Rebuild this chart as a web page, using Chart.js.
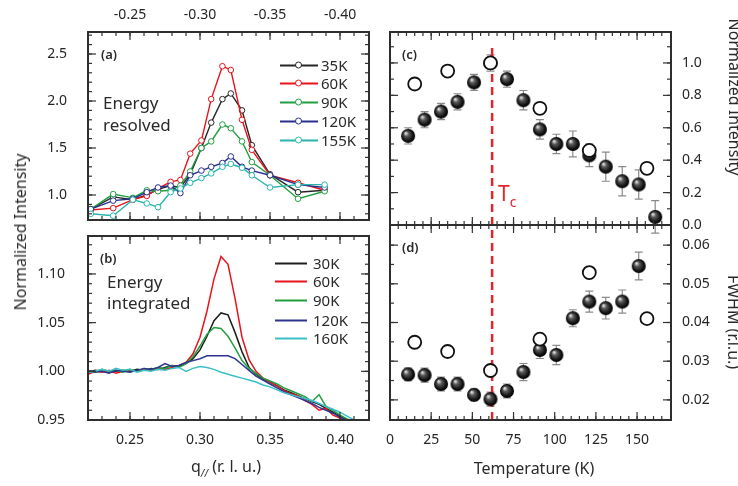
<!DOCTYPE html>
<html>
<head>
<meta charset="utf-8">
<script src="https://cdn.jsdelivr.net/npm/chart.js@4.4.0/dist/chart.umd.min.js"></script>
<style>
  body { margin: 0; background: #fff; }
  #wrap { position: relative; width: 738px; height: 486px; overflow: hidden; font-family: "Noto Sans", sans-serif; color: #2a2a2a; }
  canvas { position: absolute; left: 0; top: 0; }
  .t { position: absolute; white-space: nowrap; line-height: 1; transform: translateY(-50%); }
  .cc { transform: translate(-50%, -50%); }
  .lg { position: absolute; display: flex; align-items: center; font-size: 15px; line-height: 1; transform: translateY(-50%); color: #2a2a2a; }
  .sym { position: relative; width: 38px; height: 10px; margin-right: 3px; }
  .sym i { position: absolute; left: 0; right: 0; top: 4px; height: 2px; background: currentColor; }
  .sym b { position: absolute; left: 15px; top: 1px; width: 5px; height: 5px; border: 1.3px solid currentColor; border-radius: 50%; background: #fff; }
  .sym2 { width: 32px; height: 2px; background: currentColor; margin-right: 6px; }
</style>
</head>
<body>
<div id="wrap">
  <canvas id="ca" width="738" height="486"></canvas>
  <canvas id="cb" width="738" height="486"></canvas>
  <canvas id="cc" width="738" height="486"></canvas>
  <canvas id="cd" width="738" height="486"></canvas>

  <div class="t" style="left:101px;top:54px;font-size:13px;font-weight:600">(a)</div>
  <div class="t" style="left:103px;top:102px;font-size:17px">Energy</div>
  <div class="t" style="left:103px;top:124px;font-size:17px">resolved</div>
  <div id="legA"></div>

  <div class="t" style="left:100px;top:258px;font-size:13px;font-weight:600">(b)</div>
  <div class="t" style="left:107px;top:281px;font-size:17px">Energy</div>
  <div class="t" style="left:107px;top:302px;font-size:17px">integrated</div>
  <div id="legB"></div>

  <div class="t" style="left:402px;top:54px;font-size:13px;font-weight:600">(c)</div>
  <div class="t" style="left:402px;top:247px;font-size:13px;font-weight:600">(d)</div>
  <div class="t" style="left:498px;top:196px;font-size:21px;color:#e3242b">T<sub style="font-size:14px">c</sub></div>

  <div class="t cc" style="left:20px;top:232px;font-size:16px;transform:translate(-50%,-50%) rotate(-90deg)">Normalized Intensity</div>
  <div class="t cc" style="left:735px;top:97px;font-size:16px;transform:translate(-50%,-50%) rotate(90deg)">Normalized Intensity</div>
  <div class="t cc" style="left:734px;top:322px;font-size:16px;transform:translate(-50%,-50%) rotate(90deg)">FWHM (r.l.u.)</div>
  <div class="t cc" style="left:226px;top:468px;font-size:16px">q<sub style="font-size:10px;font-style:italic">//</sub> (r. l. u.)</div>
  <div class="t cc" style="left:534px;top:468px;font-size:16px">Temperature (K)</div>
</div>

<script>
// ---- panel (a): energy resolved, q on the negative side
const qA = [-0.222, -0.238, -0.252, -0.262, -0.270, -0.279, -0.286, -0.293, -0.301, -0.308, -0.316, -0.322, -0.330, -0.337, -0.350, -0.370, -0.389];
const a35  = [0.85, 0.98, 0.95, 1.00, 1.06, 1.10, 1.08, 1.22, 1.50, 1.77, 2.02, 2.08, 1.90, 1.53, 1.22, 1.03, 1.05];
const a60  = [0.84, 0.86, 0.95, 0.99, 1.07, 1.14, 1.16, 1.44, 1.58, 2.02, 2.37, 2.33, 1.80, 1.48, 1.21, 1.13, 1.05];
const a90  = [0.85, 1.01, 0.97, 1.05, 1.04, 1.05, 1.10, 1.25, 1.50, 1.57, 1.75, 1.71, 1.57, 1.35, 1.21, 0.96, 1.04];
const a120 = [0.85, 0.94, 0.96, 1.03, 1.08, 1.10, 1.02, 1.21, 1.26, 1.30, 1.34, 1.41, 1.30, 1.26, 1.21, 1.11, 1.08];
const a155 = [0.80, 0.78, 0.95, 0.91, 0.87, 1.03, 1.07, 1.13, 1.18, 1.23, 1.30, 1.33, 1.29, 1.21, 1.08, 1.11, 1.11];
const labelsA = ['35K', '60K', '90K', '120K', '155K'];
const colorsA = ['#262626', '#e8141c', '#20a040', '#28308c', '#2ab4ac'];

// ---- panel (b): energy integrated
const qB = [0.220, 0.225, 0.230, 0.235, 0.240, 0.245, 0.250, 0.255, 0.260, 0.265, 0.270, 0.275, 0.280, 0.285, 0.290, 0.295, 0.300, 0.305, 0.310, 0.315,
            0.320, 0.325, 0.330, 0.335, 0.340, 0.345, 0.350, 0.355, 0.360, 0.365, 0.370, 0.375, 0.380, 0.385, 0.390, 0.395, 0.400, 0.405, 0.410];
const b30  = [0.999, 1.001, 1.000, 0.999, 1.000, 1.001, 1.000, 1.002, 1.001, 1.003, 1.002, 1.004, 1.006, 1.005, 1.008, 1.013, 1.022, 1.036, 1.052, 1.060,
              1.058, 1.040, 1.020, 1.004, 0.997, 0.992, 0.989, 0.985, 0.981, 0.978, 0.975, 0.972, 0.969, 0.966, 0.962, 0.958, 0.954, 0.950, 0.947];
const b60  = [0.997, 1.000, 0.999, 1.001, 0.998, 1.000, 1.001, 1.000, 1.002, 1.001, 1.003, 1.002, 1.004, 1.006, 1.009, 1.018, 1.035, 1.062, 1.095, 1.118,
              1.110, 1.075, 1.035, 1.012, 1.000, 0.993, 0.989, 0.985, 0.980, 0.977, 0.975, 0.970, 0.966, 0.960, 0.962, 0.955, 0.952, 0.950, 0.948];
const b90  = [1.000, 0.999, 1.002, 1.000, 1.001, 0.999, 1.002, 1.000, 1.003, 1.002, 1.004, 1.003, 1.006, 1.004, 1.008, 1.015, 1.026, 1.038, 1.045, 1.044,
              1.036, 1.024, 1.011, 1.003, 0.998, 0.993, 0.990, 0.987, 0.983, 0.980, 0.977, 0.974, 0.969, 0.976, 0.964, 0.960, 0.955, 0.951, 0.948];
const b120 = [1.001, 0.999, 1.000, 0.998, 1.001, 1.000, 0.999, 1.001, 1.003, 1.002, 1.004, 1.008, 1.005, 1.006, 1.009, 1.011, 1.013, 1.016, 1.016, 1.016,
              1.016, 1.013, 1.007, 1.001, 0.995, 0.991, 0.987, 0.983, 0.979, 0.976, 0.973, 0.970, 0.967, 0.963, 0.960, 0.957, 0.953, 0.950, 0.947];
const b160 = [0.999, 1.000, 1.002, 1.000, 1.003, 1.001, 1.002, 0.999, 1.001, 1.000, 1.002, 1.001, 1.003, 1.004, 1.000, 1.003, 1.005, 1.004, 1.002, 0.999,
              0.997, 0.995, 0.993, 0.991, 0.989, 0.986, 0.984, 0.981, 0.978, 0.976, 0.974, 0.972, 0.970, 0.967, 0.964, 0.961, 0.958, 0.954, 0.950];
const labelsB = ['30K', '60K', '90K', '120K', '160K'];
const colorsB = ['#1e1e1e', '#e8141c', '#22a040', '#2e3590', '#3cc0c6'];

// ---- panels (c), (d): temperature dependence
const tempFit  = [11, 21, 31, 41, 51, 61, 71, 81, 91, 101, 111, 121, 131, 141, 151, 161];
const intFit   = [0.55, 0.65, 0.70, 0.76, 0.88, 1.00, 0.90, 0.77, 0.59, 0.50, 0.50, 0.43, 0.36, 0.27, 0.25, 0.05];
const intErr   = [0.05, 0.05, 0.05, 0.05, 0.05, 0.05, 0.05, 0.06, 0.06, 0.06, 0.08, 0.07, 0.09, 0.09, 0.09, 0.10];
const tempOpen = [15, 35, 61, 91, 121, 156];
const intOpen  = [0.87, 0.95, 1.00, 0.72, 0.46, 0.35];
const tempW    = [11, 21, 31, 41, 51, 61, 71, 81, 91, 101, 111, 121, 131, 141, 151];
const fwhm     = [0.0266, 0.0264, 0.0241, 0.0241, 0.0213, 0.0202, 0.0223, 0.0272, 0.0329, 0.0316, 0.0411, 0.0454, 0.0437, 0.0454, 0.0546];
const fwhmErr  = [0.0016, 0.0018, 0.0018, 0.0018, 0.0015, 0.0018, 0.0018, 0.0022, 0.0022, 0.0025, 0.0022, 0.0027, 0.0028, 0.0030, 0.0036];
const fwhmOpen = [0.0349, 0.0325, 0.0276, 0.0357, 0.0529, 0.0410];
const Tc = 62;

// tick labels
const ticksTopA = [-0.25, -0.30, -0.35, -0.40];
const ticksYA = [1.0, 1.5, 2.0, 2.5];
const ticksXB = [0.25, 0.30, 0.35, 0.40];
const ticksYB = [0.95, 1.00, 1.05, 1.10];
const ticksYC = [0.0, 0.2, 0.4, 0.6, 0.8, 1.0];
const ticksYD = [0.02, 0.03, 0.04, 0.05, 0.06];
const ticksT = [0, 25, 50, 75, 100, 125, 150];

const tickFont = { family: 'Noto Sans', size: 14 };
const tickColor = '#262626';

function pts(xs, ys) {
    return xs.map((x, i) => ({ x: x, y: ys[i] }));
}

function fixedTicks(list) {
    return scale => { scale.ticks = list.map(v => ({ value: v })); };
}

// frame with inward ticks on all four sides
function framePlugin(o) {
    return {
        id: 'frame',
        afterDatasetsDraw(chart) {
            const { ctx, chartArea: a, scales } = chart;
            const xs = scales.x, ys = scales.y;
            ctx.save();
            ctx.strokeStyle = '#333';
            ctx.lineWidth = 1.2;
            const seg = (x1, y1, x2, y2) => { ctx.beginPath(); ctx.moveTo(x1, y1); ctx.lineTo(x2, y2); ctx.stroke(); };
            const xTick = (v, len) => {
                const p = xs.getPixelForValue(v);
                if (p < a.left + 1 || p > a.right - 1) return;
                seg(p, a.top, p, a.top + len);
                seg(p, a.bottom, p, a.bottom - len);
            };
            const yTick = (v, len) => {
                const p = ys.getPixelForValue(v);
                if (p < a.top + 1 || p > a.bottom - 1) return;
                seg(a.left, p, a.left + len, p);
                seg(a.right, p, a.right - len, p);
            };
            for (let k = Math.ceil(o.xMin / o.xStep); k * o.xStep <= o.xMax; k++) xTick(k * o.xStep, 4);
            for (let k = Math.ceil(o.yMin / o.yStep); k * o.yStep <= o.yMax; k++) yTick(k * o.yStep, 4);
            o.xMajor.forEach(v => xTick(v, 8));
            o.yMajor.forEach(v => yTick(v, 8));
            ctx.lineWidth = 2;
            ctx.strokeStyle = '#2e2e2e';
            ctx.strokeRect(a.left, a.top, a.width, a.height);
            ctx.restore();
        }
    };
}

// error bars drawn under the markers
const errorBars = {
    id: 'errorBars',
    beforeDatasetsDraw(chart) {
        const { ctx, scales } = chart;
        ctx.save();
        ctx.strokeStyle = '#8a8a8a';
        ctx.lineWidth = 1.2;
        chart.data.datasets.forEach(ds => {
            if (!ds.errors) return;
            ds.data.forEach((p, i) => {
                const e = ds.errors[i];
                const x = scales.x.getPixelForValue(p.x);
                const y1 = scales.y.getPixelForValue(p.y - e);
                const y2 = scales.y.getPixelForValue(p.y + e);
                ctx.beginPath();
                ctx.moveTo(x, y1); ctx.lineTo(x, y2);
                ctx.moveTo(x - 4, y1); ctx.lineTo(x + 4, y1);
                ctx.moveTo(x - 4, y2); ctx.lineTo(x + 4, y2);
                ctx.stroke();
            });
        });
        ctx.restore();
    }
};

function makeBall(r) {
    const c = document.createElement('canvas');
    const s = Math.ceil(r * 2 + 2);
    c.width = c.height = s;
    const g = c.getContext('2d');
    const m = s / 2;
    const grad = g.createRadialGradient(m - r * 0.35, m - r * 0.4, r * 0.08, m, m, r);
    grad.addColorStop(0, '#e0e0e0');
    grad.addColorStop(0.3, '#5a5a5a');
    grad.addColorStop(0.75, '#151515');
    grad.addColorStop(1, '#000');
    g.fillStyle = grad;
    g.beginPath();
    g.arc(m, m, r, 0, Math.PI * 2);
    g.fill();
    return c;
}
const ball = makeBall(7);

// ---------- (a)
new Chart(document.getElementById('ca'), {
    type: 'line',
    data: {
        datasets: [a35, a60, a90, a120, a155].map((ys, i) => ({
            label: labelsA[i],
            data: pts(qA, ys),
            borderColor: colorsA[i],
            borderWidth: 1.4,
            pointStyle: 'circle',
            pointRadius: 2.8,
            pointBorderWidth: 1,
            pointBorderColor: colorsA[i],
            pointBackgroundColor: '#fff',
            tension: 0
        })).reverse()
    },
    options: {
        responsive: false,
        animation: false,
        layout: { padding: { left: 28, top: 0, right: 369, bottom: 266 } },
        plugins: { legend: { display: false }, tooltip: { enabled: false } },
        scales: {
            x: {
                type: 'linear', position: 'top', reverse: true, min: -0.4207, max: -0.22,
                grid: { display: false }, border: { display: false },
                afterBuildTicks: fixedTicks(ticksTopA),
                afterFit: s => { s.height = 32; },
                ticks: { font: tickFont, color: tickColor, padding: 1, maxRotation: 0, callback: v => v.toFixed(2) }
            },
            y: {
                type: 'linear', min: 0.734, max: 2.734,
                grid: { display: false }, border: { display: false },
                afterBuildTicks: fixedTicks(ticksYA),
                afterFit: s => { s.width = 60; },
                ticks: { font: tickFont, color: tickColor, padding: 13, callback: v => v.toFixed(1) }
            }
        }
    },
    plugins: [framePlugin({ xMin: -0.42, xMax: -0.22, xStep: 0.01, yMin: 0.7, yMax: 2.8, yStep: 0.1, xMajor: ticksTopA, yMajor: ticksYA })]
});

// ---------- (b)
new Chart(document.getElementById('cb'), {
    type: 'line',
    data: {
        datasets: [b30, b60, b90, b120, b160].map((ys, i) => ({
            label: labelsB[i],
            data: pts(qB, ys),
            borderColor: colorsB[i],
            borderWidth: 1.5,
            pointRadius: 0,
            tension: 0
        })).reverse()
    },
    options: {
        responsive: false,
        animation: false,
        layout: { padding: { left: 28, top: 236, right: 369, bottom: 36 } },
        plugins: { legend: { display: false }, tooltip: { enabled: false } },
        scales: {
            x: {
                type: 'linear', min: 0.22, max: 0.4207,
                grid: { display: false }, border: { display: false },
                afterBuildTicks: fixedTicks(ticksXB),
                afterFit: s => { s.height = 30; },
                ticks: { font: tickFont, color: tickColor, padding: 4, maxRotation: 0, callback: v => v.toFixed(2) }
            },
            y: {
                type: 'linear', min: 0.95, max: 1.139,
                grid: { display: false }, border: { display: false },
                afterBuildTicks: fixedTicks(ticksYB),
                afterFit: s => { s.width = 60; },
                ticks: { font: tickFont, color: tickColor, padding: 15, callback: v => v.toFixed(2) }
            }
        }
    },
    plugins: [framePlugin({ xMin: 0.22, xMax: 0.42, xStep: 0.01, yMin: 0.95, yMax: 1.14, yStep: 0.01, xMajor: ticksXB, yMajor: ticksYB })]
});

// ---------- (c)
new Chart(document.getElementById('cc'), {
    type: 'scatter',
    data: {
        datasets: [
            {
                label: 'open', data: pts(tempOpen, intOpen), order: 0,
                pointStyle: 'circle', pointRadius: 6.5, pointBorderWidth: 1.8,
                pointBorderColor: '#111', pointBackgroundColor: '#fff'
            },
            {
                label: 'fit', data: pts(tempFit, intFit), errors: intErr, order: 1,
                pointStyle: ball, pointRadius: 7
            },
            {
                type: 'line', label: 'Tc', data: [{ x: Tc, y: 0 }, { x: Tc, y: 1.10 }], order: 2,
                borderColor: '#e3242b', borderWidth: 2.5, borderDash: [8, 5], pointRadius: 0
            }
        ]
    },
    options: {
        responsive: false,
        animation: false,
        layout: { padding: { left: 390, top: 32, right: 7, bottom: 261 } },
        plugins: { legend: { display: false }, tooltip: { enabled: false } },
        scales: {
            x: { type: 'linear', min: 0, max: 170.6, display: false },
            y: {
                type: 'linear', position: 'right', min: 0, max: 1.191,
                grid: { display: false }, border: { display: false },
                afterBuildTicks: fixedTicks(ticksYC),
                afterFit: s => { s.width = 60; },
                ticks: { font: tickFont, color: tickColor, padding: 3, callback: v => v.toFixed(1) }
            }
        }
    },
    plugins: [errorBars, framePlugin({ xMin: 0, xMax: 171, xStep: 5, yMin: 0, yMax: 1.2, yStep: 0.1, xMajor: ticksT, yMajor: ticksYC })]
});

// ---------- (d)
new Chart(document.getElementById('cd'), {
    type: 'scatter',
    data: {
        datasets: [
            {
                label: 'open', data: pts(tempOpen, fwhmOpen), order: 0,
                pointStyle: 'circle', pointRadius: 6.5, pointBorderWidth: 1.8,
                pointBorderColor: '#111', pointBackgroundColor: '#fff'
            },
            {
                label: 'fit', data: pts(tempW, fwhm), errors: fwhmErr, order: 1,
                pointStyle: ball, pointRadius: 7
            },
            {
                type: 'line', label: 'Tc', data: [{ x: Tc, y: 0.0148 }, { x: Tc, y: 0.0652 }], order: 2,
                borderColor: '#e3242b', borderWidth: 2.5, borderDash: [8, 5], pointRadius: 0
            }
        ]
    },
    options: {
        responsive: false,
        animation: false,
        layout: { padding: { left: 390, top: 225, right: 7, bottom: 36 } },
        plugins: { legend: { display: false }, tooltip: { enabled: false } },
        scales: {
            x: {
                type: 'linear', min: 0, max: 170.6,
                grid: { display: false }, border: { display: false },
                afterBuildTicks: fixedTicks(ticksT),
                afterFit: s => { s.height = 30; },
                ticks: { font: tickFont, color: tickColor, padding: 4, maxRotation: 0, callback: v => String(v) }
            },
            y: {
                type: 'linear', position: 'right', min: 0.0148, max: 0.0652,
                grid: { display: false }, border: { display: false },
                afterBuildTicks: fixedTicks(ticksYD),
                afterFit: s => { s.width = 60; },
                ticks: { font: tickFont, color: tickColor, padding: 3, callback: v => v.toFixed(2) }
            }
        }
    },
    plugins: [errorBars, framePlugin({ xMin: 0, xMax: 171, xStep: 5, yMin: 0.015, yMax: 0.065, yStep: 0.005, xMajor: ticksT, yMajor: ticksYD })]
});

// legends as text next to styled samples
const rowsA = [65, 83, 102, 121, 140];
document.getElementById('legA').innerHTML = labelsA.map((l, i) =>
    `<div class="lg" style="left:280px;top:${rowsA[i]}px"><span class="sym" style="color:${colorsA[i]}"><i></i><b></b></span>${l}</div>`
).join('');
const rowsB = [263, 281, 300, 320, 338];
document.getElementById('legB').innerHTML = labelsB.map((l, i) =>
    `<div class="lg" style="left:275px;top:${rowsB[i]}px"><span class="sym2" style="color:${colorsB[i]}"></span>${l}</div>`
).join('');
</script>
</body>
</html>
